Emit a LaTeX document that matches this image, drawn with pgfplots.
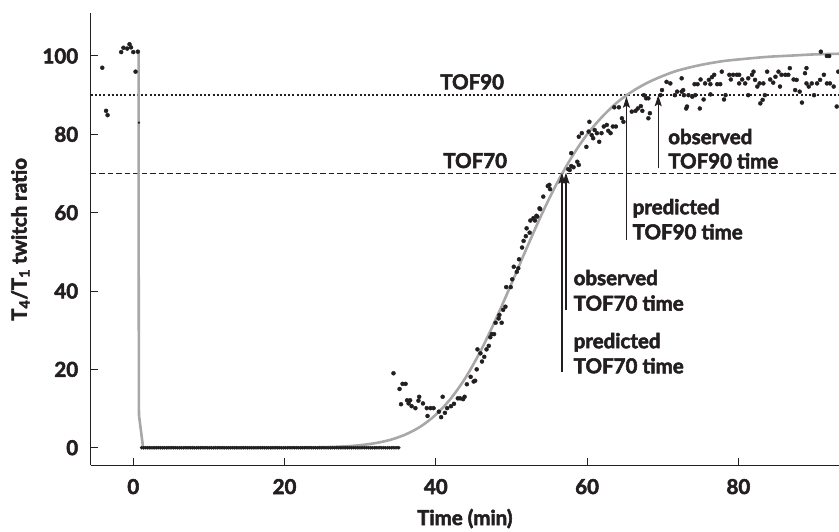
\documentclass[border=0pt]{standalone}
\usepackage{pgfplots}
\pgfplotsset{compat=1.18}
\usetikzlibrary{arrows.meta}
\usepackage{fontspec}
\setmainfont{Lato}[BoldFeatures={FakeBold=2.6}]
\definecolor{fitgray}{HTML}{A8A8A8}
\definecolor{ink}{HTML}{231F20}

\newcommand{\lbl}{\bfseries\fontsize{20.5}{23}\selectfont}

\begin{document}
\begin{tikzpicture}[font=\lbl]
\useasboundingbox (0,0) rectangle (839pt,532pt);
\begin{axis}[
  at={(90.7pt,66.5pt)}, anchor=south west,
  width=748.3pt, height=452.2pt, scale only axis,
  xmin=-5.63, xmax=93.3, ymin=-4.54, ymax=110.9,
  axis lines=left,
  axis line style={-, ink, line width=1.3pt},
  xtick={0,20,40,60,80}, ytick={0,20,40,60,80,100},
  tick align=inside, major tick length=7pt,
  tick style={ink, line width=1pt},
  /pgf/number format/assume math mode=true,
  ticklabel style={font=\lbl, text=ink},
  xticklabel style={yshift=-10pt},
  yticklabel style={xshift=-9pt},
  xlabel={Time (min)},
  ylabel={T\textsubscript{4}/T\textsubscript{1} twitch ratio},
  label style={font=\lbl, text=ink},
  xlabel style={at={(axis description cs:0.5,-0.1316)}, anchor=base},
  ylabel style={at={(axis description cs:-0.0858,0.5)}, anchor=base},
]
% reference lines
\addplot[ink, line width=1.8pt, dash pattern=on 2pt off 2.2pt] coordinates {(-5.63,90) (93.3,90)};
\addplot[ink, line width=1.8pt, dash pattern=on 5.5pt off 3pt] coordinates {(-5.63,70) (93.3,70)};

% observed ratios
\addplot[only marks, mark=*, mark size=2pt, ink] table {
x y
-4.1 97
-3.6 86
-3.4 84.9
-1.6 101
-1.3 102.1
-0.8 101.9
-0.5 103
-0.3 102.2
0.0 101
0.6 101.1
0.3 96
};
\addplot[only marks, mark=*, mark size=1pt, ink] coordinates {(0.75,83)};
\addplot[only marks, mark=*, mark size=1.6pt, ink] coordinates {
(1.1,0)(1.35,0)(1.6,0)(1.85,0)(2.1,0)(2.35,0)(2.6,0)(2.85,0)(3.1,0)(3.35,0)
(3.6,0)(3.85,0)(4.1,0)(4.35,0)(4.6,0)(4.85,0)(5.1,0)(5.35,0)(5.6,0)(5.85,0)
(6.1,0)(6.35,0)(6.6,0)(6.85,0)(7.1,0)(7.35,0)(7.6,0)(7.85,0)(8.1,0)(8.35,0)
(8.6,0)(8.85,0)(9.1,0)(9.35,0)(9.6,0)(9.85,0)(10.1,0)(10.35,0)(10.6,0)(10.85,0)
(11.1,0)(11.35,0)(11.6,0)(11.85,0)(12.1,0)(12.35,0)(12.6,0)(12.85,0)(13.1,0)(13.35,0)
(13.6,0)(13.85,0)(14.1,0)(14.35,0)(14.6,0)(14.85,0)(15.1,0)(15.35,0)(15.6,0)(15.85,0)
(16.1,0)(16.35,0)(16.6,0)(16.85,0)(17.1,0)(17.35,0)(17.6,0)(17.85,0)(18.1,0)(18.35,0)
(18.6,0)(18.85,0)(19.1,0)(19.35,0)(19.6,0)(19.85,0)(20.1,0)(20.35,0)(20.6,0)(20.85,0)
(21.1,0)(21.35,0)(21.6,0)(21.85,0)(22.1,0)(22.35,0)(22.6,0)(22.85,0)(23.1,0)(23.35,0)
(23.6,0)(23.85,0)(24.1,0)(24.35,0)(24.6,0)(24.85,0)(25.1,0)(25.35,0)(25.6,0)(25.85,0)
(26.1,0)(26.35,0)(26.6,0)(26.85,0)(27.1,0)(27.35,0)(27.6,0)(27.85,0)(28.1,0)(28.35,0)
(28.6,0)(28.85,0)(29.1,0)(29.35,0)(29.6,0)(29.85,0)(30.1,0)(30.35,0)(30.6,0)(30.85,0)
(31.1,0)(31.35,0)(31.6,0)(31.85,0)(32.1,0)(32.35,0)(32.6,0)(32.85,0)(33.1,0)(33.35,0)
(33.6,0)(33.85,0)(34.1,0)(34.35,0)(34.6,0)(34.85,0)(35.1,0)
};
\addplot[only marks, mark=*, mark size=2pt, ink] table {
x y
34.4 19.0
35.2 15.0
35.6 16.3
36.0 16.3
35.4 11.1
36.2 12.1
36.6 12.1
36.4 11.3
36.8 10.6
37.3 10.1
37.8 13.0
37.7 12.0
38.3 11.3
38.8 10.1
39.3 10.1
39.7 10.1
38.9 8.1
40.9 13.0
40.4 9.2
40.7 7.8
41.2 8.9
41.5 10.1
42.0 10.6
42.4 11.2
42.9 12.6
43.2 12.6
43.8 13.0
43.6 12.4
44.1 16.2
44.6 18.1
45.0 16.9
45.2 17.1
45.4 20.0
45.5 25.1
45.9 24.1
46.1 22.0
46.4 23.2
46.7 25.1
47.0 26.0
47.2 28.2
47.4 29.0
47.7 29.0
47.9 31.9
48.3 33.0
48.4 33.9
48.7 31.9
48.9 35.2
49.2 36.0
49.3 41.0
49.9 41.0
50.1 43.0
50.3 46.2
50.7 44.9
50.9 45.8
51.0 48.1
51.4 51.1
51.6 52.8
51.9 54.0
52.0 56.0
52.4 54.9
52.5 58.0
53.1 58.0
53.4 59.0
53.7 61.1
52.9 58.6
53.3 59.2
53.8 60.9
54.2 64.1
54.8 66.8
55.0 67.1
55.1 66.0
57.5 71.1
57.9 71.9
57.9 75.2
58.7 73.0
58.9 72.2
57.7 70.9
58.2 71.6
58.9 79.4
59.3 80.3
59.9 76.8
60.3 83.2
60.2 80.7
60.6 79.8
60.8 79.0
61.0 81.1
61.3 80.3
61.6 78.1
61.9 80.3
62.2 82.0
62.6 82.4
62.8 80.9
63.1 80.3
63.4 82.0
63.8 82.0
63.6 86.9
64.2 86.9
64.6 84.1
64.8 83.2
65.9 85.8
66.4 86.0
66.7 86.6
67.1 87.2
67.3 86.0
67.5 90.0
67.8 89.2
68.1 89.2
68.3 85.4
68.1 84.1
69.7 90.0
69.9 91.3
70.5 93.4
71.0 93.0
71.6 90.0
71.9 90.9
72.5 90.9
72.8 90.0
73.2 87.1
72.7 91.3
72.5 94.3
73.4 90.0
73.9 89.6
73.1 86.6
74.3 90.0
74.9 86.6
75.4 88.9
74.2 92.8
74.6 92.8
75.0 94.0
75.6 93.0
76.1 93.9
76.5 94.6
76.8 95.2
76.3 92.8
77.2 92.8
77.6 92.8
76.3 90.2
77.8 96.0
78.3 90.0
78.1 88.9
78.8 95.2
79.3 95.2
79.8 95.2
80.1 95.2
79.0 94.0
80.5 94.0
80.1 93.0
80.9 93.0
81.3 94.3
81.8 95.2
82.0 96.0
82.2 93.9
81.3 90.0
82.5 92.2
82.8 93.0
83.3 93.0
83.8 96.0
84.2 94.0
84.6 93.2
84.9 94.7
85.3 96.0
85.7 95.2
86.2 95.2
86.6 95.2
86.8 96.9
87.3 94.0
87.7 93.9
89.0 96.9
88.8 95.6
83.2 88.8
82.9 87.9
83.5 90.0
85.5 92.2
87.5 91.3
88.1 90.9
88.4 88.1
89.0 93.0
89.3 92.2
89.7 93.0
90.0 90.0
90.4 93.0
90.8 93.9
91.3 95.2
90.9 101.1
91.7 100
92.0 100
91.7 93.0
92.1 93.0
92.6 92.2
93.0 87.1
93.2 96.0
};

% model prediction
\addplot[fitgray, line width=2.6pt] coordinates {
(0.7,101) (0.7,60) (0.75,8.3) (1.3,0) (20,0)
};
\addplot[fitgray, line width=2.6pt, smooth] coordinates {
(20,0.02) (25,0.12) (28,0.34) (30,0.65) (32,1.17) (34,2.02) (36,3.38)
(38,5.43) (40,8.43) (42,12.6) (44,18.1) (46,25.0) (48,33.1) (50,41.9)
(52,50.9) (54,59.6) (56,67.5) (58,74.3) (60,80.0) (62,84.5) (64,88.2)
(66,91.0) (68,93.2) (70,94.9) (72,96.3) (75,97.7) (78,98.7) (81,99.3)
(84,99.8) (87,100.1) (90,100.4) (94,100.6)
};

% annotations
\begin{scope}[ink, line width=1.3pt, -{Stealth[length=11pt, width=7pt, inset=2pt]}]
\draw (axis cs:56.67,19.4) -- (axis cs:56.67,70.2);
\draw (axis cs:57.2,35.1) -- (axis cs:57.2,70.2);
\draw (axis cs:65.2,53.0) -- (axis cs:65.2,89.6);
\draw (axis cs:69.4,71.3) -- (axis cs:69.4,90);
\end{scope}
\begin{scope}[every node/.style={inner sep=0pt, text=ink, font=\lbl}]
\node[anchor=base] at (axis cs:44.8,91.5) {TOF90};
\node[anchor=base] at (axis cs:45.2,71.4) {TOF70};
\node[anchor=base west] at (axis cs:70.7,77.5) {observed};
\node[anchor=base west] at (axis cs:70.7,71.3) {TOF90 time};
\node[anchor=base west] at (axis cs:66.0,59.6) {predicted};
\node[anchor=base west] at (axis cs:66.0,53.2) {TOF90 time};
\node[anchor=base west] at (axis cs:58.2,41.5) {observed};
\node[anchor=base west] at (axis cs:58.2,35.0) {TOF70 time};
\node[anchor=base west] at (axis cs:58.2,25.4) {predicted};
\node[anchor=base west] at (axis cs:58.2,19.0) {TOF70 time};
\end{scope}
\end{axis}
\end{tikzpicture}
\end{document}
